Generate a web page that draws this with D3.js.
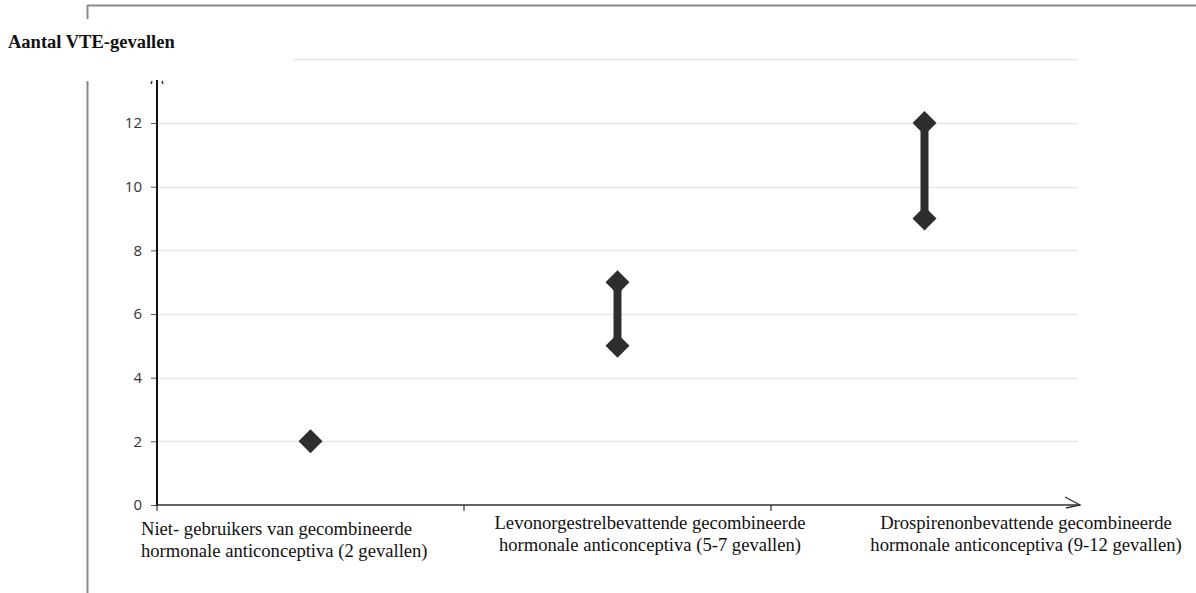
<!DOCTYPE html>
<html><head><meta charset="utf-8">
<script src="https://cdn.jsdelivr.net/npm/d3@7"></script>
<style>html,body{margin:0;padding:0;background:#fff;}svg{display:block;}</style>
</head><body>
<svg id="chart" width="1196" height="593"></svg>
<script>
const categories = ["cat1", "cat2", "cat3"];
const labelLines = [
  ["Niet- gebruikers van gecombineerde", "hormonale anticonceptiva (2 gevallen)"],
  ["Levonorgestrelbevattende gecombineerde", "hormonale anticonceptiva (5-7 gevallen)"],
  ["Drospirenonbevattende gecombineerde", "hormonale anticonceptiva (9-12 gevallen)"]
];
const lowValues = [2, 5, 9];
const highValues = [2, 7, 12];
const yTicks = [0, 2, 4, 6, 8, 10, 12];
const gridValues = [2, 4, 6, 8, 10, 12, 14];
const yTitle = "Aantal VTE-gevallen";

const svg = d3.select("#chart");
const x = d3.scaleBand().domain(categories).range([157, 1078]).padding(0);
const y = d3.scaleLinear().domain([0, 14]).range([505, 59.4]);

// frame
svg.append("line").attr("x1", 87.5).attr("x2", 1196).attr("y1", 5.5).attr("y2", 5.5).attr("stroke", "#8a8a8a").attr("stroke-width", 2);
svg.append("line").attr("x1", 87.5).attr("x2", 87.5).attr("y1", 5).attr("y2", 593).attr("stroke", "#8a8a8a").attr("stroke-width", 2);

// grid
svg.append("g").selectAll("line").data(gridValues).join("line")
  .attr("x1", 157).attr("x2", x.range()[1])
  .attr("y1", d => Math.round(y(d)) + 0.5).attr("y2", d => Math.round(y(d)) + 0.5)
  .attr("stroke", "#e8e8e8").attr("stroke-width", 1.5);

// title box covers frame & top grid
svg.append("rect").attr("x", 0).attr("y", 19).attr("width", 293).attr("height", 62).attr("fill", "#fff");
svg.append("text").attr("x", 8).attr("y", 48).text(yTitle)
  .attr("font-family", "Liberation Serif, Times New Roman, serif").attr("font-weight", "bold")
  .attr("font-size", 18.5).attr("fill", "#111");

// y axis
const yAxis = d3.axisLeft(y).tickValues(yTicks).tickSize(6).tickPadding(9).tickFormat(d3.format("d"));
const gy = svg.append("g").attr("transform", "translate(157,0)").call(yAxis);
gy.select(".domain").remove();
gy.selectAll(".tick line").attr("stroke", "#555");
gy.selectAll(".tick text").attr("font-family", "Open Sans, DejaVu Sans, sans-serif").attr("font-size", 15).attr("fill", "#333");
svg.append("line").attr("x1", 157).attr("x2", 157).attr("y1", y(13.35)).attr("y2", 506).attr("stroke", "#111").attr("stroke-width", 2);
// tiny arrow marks at top
svg.append("g").selectAll("line").data([-1, 1]).join("line")
  .attr("x1", d => 157 + d * 5).attr("x2", d => 157 + d * 6)
  .attr("y1", y(13.35) + 1).attr("y2", y(13.35) + 4)
  .attr("stroke", "#333").attr("stroke-width", 1.5);

// x axis
const xAxis = d3.axisBottom(x).tickSize(0).tickFormat("");
const gx = svg.append("g").attr("transform", "translate(0,505)").call(xAxis);
gx.select(".domain").remove();
svg.append("line").attr("x1", 157).attr("x2", 1080).attr("y1", 505).attr("y2", 505).attr("stroke", "#333").attr("stroke-width", 1.5);
svg.append("path").attr("d", `M1065,497 L1080,505 L1066,508`).attr("fill", "none").attr("stroke", "#333").attr("stroke-width", 1.3);
svg.append("g").selectAll("line").data(categories).join("line")
  .attr("x1", d => x(d)).attr("x2", d => x(d)).attr("y1", 505).attr("y2", 511)
  .attr("stroke", "#333").attr("stroke-width", 1.2);

// category labels
const labelAnchors = [{dx: -16, dy: 6, anchor: "start"}, {dx: 186, dy: 0, anchor: "middle"}, {dx: 255, dy: 0, anchor: "middle"}];
const lg = svg.append("g").attr("font-family", "Liberation Serif, Times New Roman, serif").attr("font-size", 18.6).attr("fill", "#111");
categories.forEach((c, i) => {
  const t = lg.append("text").attr("text-anchor", labelAnchors[i].anchor);
  labelLines[i].forEach((ln, j) => {
    t.append("tspan").attr("x", x(c) + labelAnchors[i].dx).attr("y", 529 + labelAnchors[i].dy + j * 22).text(ln);
  });
});

// range bars
const data = categories.map((c, i) => ({c, lo: lowValues[i], hi: highValues[i]}));
svg.append("g").selectAll("line").data(data.filter(d => d.hi > d.lo)).join("line")
  .attr("x1", d => x(d.c) + x.bandwidth() / 2).attr("x2", d => x(d.c) + x.bandwidth() / 2)
  .attr("y1", d => y(d.lo)).attr("y2", d => y(d.hi))
  .attr("stroke", "#2e2e2e").attr("stroke-width", 8);
const pts = [];
data.forEach(d => { pts.push({c: d.c, v: d.lo}); if (d.hi !== d.lo) pts.push({c: d.c, v: d.hi}); });
const sym = d3.symbol().type(d3.symbolSquare).size(288);
svg.append("g").selectAll("path").data(pts).join("path")
  .attr("d", sym)
  .attr("transform", d => `translate(${x(d.c) + x.bandwidth() / 2},${y(d.v)}) rotate(45)`)
  .attr("fill", "#2e2e2e");
</script>
</body></html>
